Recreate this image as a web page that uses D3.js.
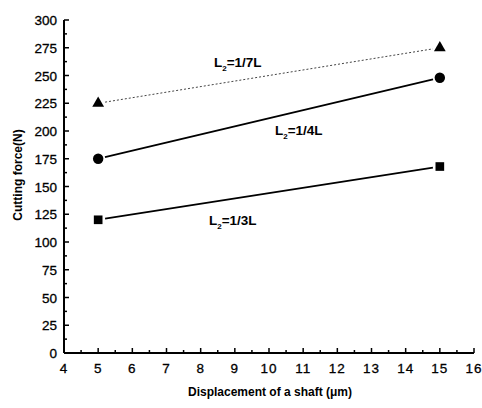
<!DOCTYPE html>
<html>
<head>
<meta charset="utf-8">
<script src="https://cdn.jsdelivr.net/npm/d3@7"></script>
<style>
  body { margin: 0; background: #fff; }
  svg { display: block; font-family: "Liberation Sans", Arial, sans-serif; }
</style>
</head>
<body>
<svg id="chart" width="482" height="408"></svg>
<script>
// data
const displacement = [5, 15];
const force17 = [225, 275];
const force14 = [175, 248];
const force13 = [120, 168];
const seriesNames = ['1/7L', '1/4L', '1/3L'];
const xTicks = d3.range(4, 17, 1);
const yTicks = d3.range(0, 301, 25);

const svg = d3.select('#chart');
const x = d3.scaleLinear().domain([4, 16]).range([64, 474]);
const y = d3.scaleLinear().domain([0, 300]).range([353, 20]);

// axes (ticks point inward)
const xAxis = svg.append('g').attr('transform', 'translate(0,353)');
xAxis.append('line').attr('x1', x(4)).attr('x2', x(16)).attr('stroke', '#000').attr('stroke-width', 2);
xAxis.selectAll('line.major').data(xTicks).enter().append('line')
    .attr('class', 'major')
    .attr('x1', d => x(d)).attr('x2', d => x(d))
    .attr('y1', 0).attr('y2', -5)
    .attr('stroke', '#000').attr('stroke-width', 1.5);
xAxis.selectAll('line.minor').data(d3.range(4.5, 16, 1)).enter().append('line')
    .attr('class', 'minor')
    .attr('x1', d => x(d)).attr('x2', d => x(d))
    .attr('y1', 0).attr('y2', -3)
    .attr('stroke', '#000').attr('stroke-width', 1.5);
xAxis.selectAll('text').data(xTicks).enter().append('text')
    .attr('x', d => x(d)).attr('y', 20)
    .attr('text-anchor', 'middle')
    .attr('font-size', 13.5)
    .attr('letter-spacing', 1)
    .attr('stroke', '#000').attr('stroke-width', 0.3)
    .text(d => d);

const yAxis = svg.append('g').attr('transform', 'translate(64,0)');
yAxis.append('line').attr('y1', y(0)).attr('y2', y(300)).attr('stroke', '#000').attr('stroke-width', 2);
yAxis.selectAll('line.major').data(yTicks).enter().append('line')
    .attr('class', 'major')
    .attr('y1', d => y(d)).attr('y2', d => y(d))
    .attr('x1', 0).attr('x2', 5)
    .attr('stroke', '#000').attr('stroke-width', 1.5);
yAxis.selectAll('line.minor').data(d3.range(12.5, 300, 25)).enter().append('line')
    .attr('class', 'minor')
    .attr('y1', d => y(d)).attr('y2', d => y(d))
    .attr('x1', 0).attr('x2', 3)
    .attr('stroke', '#000').attr('stroke-width', 1.5);
yAxis.selectAll('text').data(yTicks).enter().append('text')
    .attr('x', -7).attr('y', d => y(d) + 5)
    .attr('text-anchor', 'end')
    .attr('font-size', 13.5)
    .attr('stroke', '#000').attr('stroke-width', 0.3)
    .text(d => d);

svg.append('text')
    .attr('x', 270).attr('y', 396)
    .attr('text-anchor', 'middle')
    .attr('font-size', 12).attr('font-weight', 'bold')
    .text('Displacement of a shaft (\u03bcm)');

svg.append('text')
    .attr('transform', 'translate(22,175) rotate(-90)')
    .attr('text-anchor', 'middle')
    .attr('font-size', 12).attr('font-weight', 'bold')
    .text('Cutting force(N)');

// series lines, shortened so they stop short of the markers
const series = [
    { name: seriesNames[0], values: force17, symbol: d3.symbolTriangle, dash: '2,2', width: 1, color: '#444' },
    { name: seriesNames[1], values: force14, symbol: d3.symbolCircle, dash: null, width: 1.8, color: '#000' },
    { name: seriesNames[2], values: force13, symbol: d3.symbolSquare, dash: null, width: 1.8, color: '#000' }
];

series.forEach(s => {
    const x1 = x(displacement[0]), y1 = y(s.values[0]);
    const x2 = x(displacement[1]), y2 = y(s.values[1]);
    const len = Math.hypot(x2 - x1, y2 - y1);
    const gap = 7;
    const dx = (x2 - x1) / len * gap, dy = (y2 - y1) / len * gap;
    svg.append('line')
        .attr('x1', x1 + dx).attr('y1', y1 + dy)
        .attr('x2', x2 - dx).attr('y2', y2 - dy)
        .attr('stroke', s.color)
        .attr('stroke-width', s.width)
        .attr('stroke-dasharray', s.dash);

    const size = s.symbol === d3.symbolCircle ? 85 : (s.symbol === d3.symbolTriangle ? 60 : 75);
    svg.selectAll(null).data(displacement).enter().append('path')
        .attr('transform', (d, i) => `translate(${x(d)},${y(s.values[i])})`)
        .attr('d', d3.symbol().type(s.symbol).size(size))
        .attr('fill', '#000');
});

// labels L2=...
const labelPos = [[214, 67], [275, 135], [209, 225]];
series.forEach((s, i) => {
    const t = svg.append('text')
        .attr('x', labelPos[i][0]).attr('y', labelPos[i][1])
        .attr('font-size', 13.5).attr('font-weight', 'bold');
    t.append('tspan').text('L');
    t.append('tspan').attr('font-size', 8).attr('dy', 4).text('2');
    t.append('tspan').attr('dy', -4).text('=' + s.name);
});
</script>
</body>
</html>
